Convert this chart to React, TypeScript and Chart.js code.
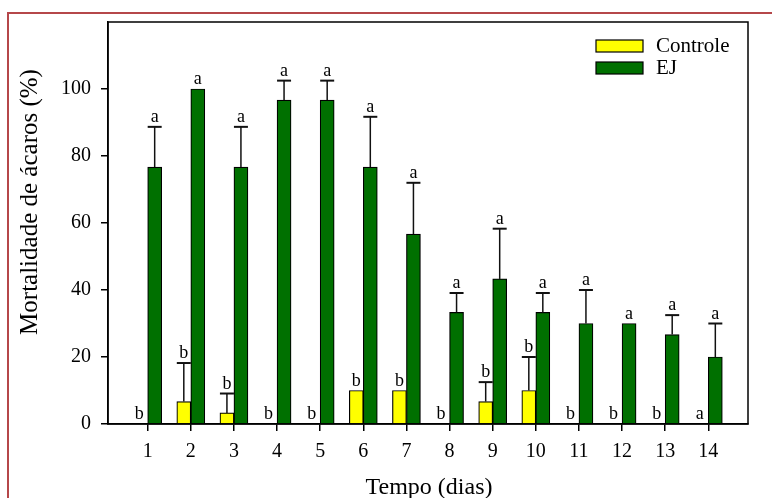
import React, { useEffect, useRef } from 'react';
import { Chart, registerables } from 'chart.js';

Chart.register(...registerables);

const categories = [1, 2, 3, 4, 5, 6, 7, 8, 9, 10, 11, 12, 13, 14];
const controle = [0, 6.7, 3.3, 0, 0, 10, 10, 0, 6.7, 10, 0, 0, 0, 0];
const controleErr = [0, 11.5, 5.8, 0, 0, 0, 0, 0, 5.8, 10, 0, 0, 0, 0];
const ej = [76.7, 100, 76.7, 96.7, 96.7, 76.7, 56.7, 33.3, 43.3, 33.3, 30, 30, 26.7, 20];
const ejErr = [12, 0, 12, 5.8, 5.8, 15, 15.3, 5.8, 15, 5.8, 10, 0, 5.8, 10];
const controleLetters = ['b', 'b', 'b', 'b', 'b', 'b', 'b', 'b', 'b', 'b', 'b', 'b', 'b', 'a'];
const ejLetters = ['a', 'a', 'a', 'a', 'a', 'a', 'a', 'a', 'a', 'a', 'a', 'a', 'a', 'a'];
const yTicks = [0, 20, 40, 60, 80, 100];
const seriesNames = ['Controle', 'EJ'];
const xTitle = 'Tempo (dias)';
const yTitle = 'Mortalidade de ácaros (%)';

const SERIF = "'Liberation Serif', 'Times New Roman', serif";
const YELLOW = '#ffff00';
const GREEN = '#007000';

const overlay = {
  id: 'overlay',
  afterDatasetsDraw(chart: any) {
    const ctx = chart.ctx;
    const y = chart.scales.y;
    const errs = [controleErr, ejErr];
    const vals = [controle, ej];
    const letters = [controleLetters, ejLetters];
    ctx.save();
    for (let d = 0; d < 2; d++) {
      const meta = chart.getDatasetMeta(d);
      meta.data.forEach((bar: any, i: number) => {
        const top = y.getPixelForValue(vals[d][i]);
        let labelTop = top;
        if (errs[d][i] > 0) {
          const capY = y.getPixelForValue(vals[d][i] + errs[d][i]);
          ctx.strokeStyle = '#111';
          ctx.lineWidth = 1.5;
          ctx.beginPath();
          ctx.moveTo(bar.x, top);
          ctx.lineTo(bar.x, capY);
          ctx.stroke();
          ctx.lineWidth = 2;
          ctx.beginPath();
          ctx.moveTo(bar.x - 7, capY);
          ctx.lineTo(bar.x + 7, capY);
          ctx.stroke();
          labelTop = capY;
        }
        ctx.fillStyle = '#000';
        ctx.font = `18px ${SERIF}`;
        ctx.textAlign = 'center';
        ctx.textBaseline = 'alphabetic';
        ctx.fillText(letters[d][i], bar.x - (vals[d][i] === 0 ? 1.5 : 0), labelTop - 5);
      });
    }
    ctx.restore();
  },
  afterDraw(chart: any) {
    const ctx = chart.ctx;
    const a = chart.chartArea;
    ctx.save();
    // plot box
    ctx.strokeStyle = '#000';
    ctx.lineWidth = 1.5;
    ctx.strokeRect(a.left, a.top, a.right - a.left, a.bottom - a.top);
    // legend
    const lx = 596;
    const colors = [YELLOW, GREEN];
    const ly = [40, 62];
    ctx.font = `21px ${SERIF}`;
    ctx.textAlign = 'left';
    ctx.textBaseline = 'middle';
    for (let k = 0; k < 2; k++) {
      ctx.fillStyle = colors[k];
      ctx.fillRect(lx, ly[k], 47, 12);
      ctx.strokeStyle = '#000';
      ctx.lineWidth = 1.2;
      ctx.strokeRect(lx, ly[k], 47, 12);
      ctx.fillStyle = '#000';
      ctx.fillText(seriesNames[k], 656, ly[k] + 6);
    }
    // axis titles
    ctx.font = `24px ${SERIF}`;
    ctx.textAlign = 'center';
    ctx.textBaseline = 'alphabetic';
    ctx.fillText(xTitle, 429, 494);
    ctx.save();
    ctx.translate(37, 202);
    ctx.rotate(-Math.PI / 2);
    ctx.font = `25px ${SERIF}`;
    ctx.fillText(yTitle, 0, 0);
    ctx.restore();
    // red frame
    ctx.strokeStyle = '#b5474a';
    ctx.lineWidth = 2;
    ctx.beginPath();
    ctx.moveTo(8, 498);
    ctx.lineTo(8, 13);
    ctx.lineTo(772, 13);
    ctx.stroke();
    ctx.restore();
  },
};

export default function App() {
  const ref = useRef<HTMLCanvasElement>(null);
  useEffect(() => {
    if (!ref.current) return;
    const chart = new Chart(ref.current, {
      type: 'bar',
      data: {
        datasets: [
          {
            label: seriesNames[0],
            data: categories.map((c, i) => ({ x: c, y: controle[i] })),
            backgroundColor: YELLOW,
            borderColor: '#000',
            borderWidth: 1.2,
            barThickness: 14,
          },
          {
            label: seriesNames[1],
            data: categories.map((c, i) => ({ x: c, y: ej[i] })),
            backgroundColor: GREEN,
            borderColor: '#000',
            borderWidth: 1.2,
            barThickness: 14,
          },
        ] as any,
      },
      options: {
        responsive: false,
        animation: false,
        layout: { padding: { left: 0, top: 22, right: 24, bottom: 0 } },
        plugins: { legend: { display: false }, tooltip: { enabled: false } },
        scales: {
          x: {
            type: 'linear',
            offset: false,
            min: 0.08,
            max: 14.92,
            afterBuildTicks: (s: any) => {
              s.ticks = categories.map((v) => ({ value: v }));
            },
            afterFit: (s: any) => {
              s.height = 74;
            },
            grid: { offset: false, drawOnChartArea: false, drawTicks: true, tickLength: 7, color: '#000', lineWidth: 1.5 },
            border: { display: true, color: '#000', width: 1.5 },
            ticks: {
              font: { family: SERIF, size: 20 },
              color: '#000',
              padding: 9,
              maxRotation: 0,
              autoSkip: false,
              callback: (v: any) => String(v),
            },
          },
          y: {
            min: 0,
            max: 120,
            afterBuildTicks: (s: any) => {
              s.ticks = yTicks.map((v) => ({ value: v }));
            },
            afterFit: (s: any) => {
              s.width = 108;
            },
            grid: { drawOnChartArea: false, drawTicks: true, tickLength: 7, color: '#000', lineWidth: 1.5 },
            border: { display: true, color: '#000', width: 1.5 },
            ticks: {
              font: { family: SERIF, size: 20 },
              color: '#000',
              padding: 10,
              callback: (v: any) => String(v),
            },
          },
        },
      } as any,
      plugins: [overlay],
    });
    return () => chart.destroy();
  }, []);
  return (
    <div style={{ position: 'fixed', left: 0, top: 0, width: 772, height: 498, background: '#fff' }}>
      <canvas ref={ref} width={772} height={498} style={{ display: 'block' }} />
    </div>
  );
}
